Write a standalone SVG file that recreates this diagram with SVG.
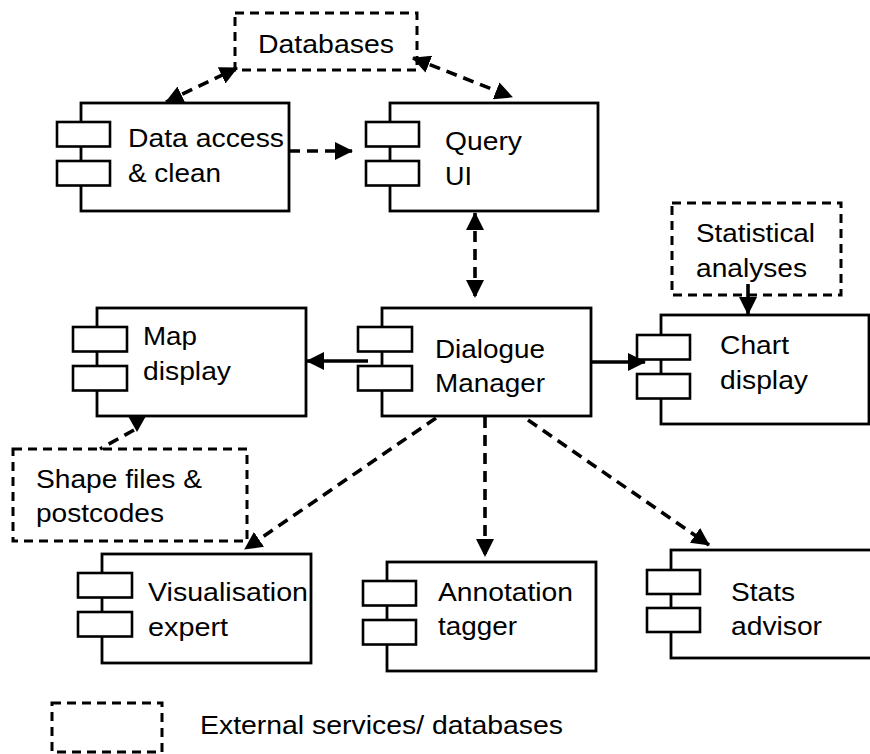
<svg xmlns="http://www.w3.org/2000/svg" width="870" height="754" viewBox="0 0 870 754">
<style>
  .box { fill: #fff; stroke: #000; stroke-width: 2.8; }
  .comp { fill: #fff; stroke: #000; stroke-width: 2.6; }
  .ext { fill: none; stroke: #000; stroke-width: 3; stroke-dasharray: 9 6; }
  .t { font-family: "Liberation Sans", Arial, Helvetica, sans-serif; font-size: 26px; fill: #000; }
  .dash { fill: none; stroke: #000; stroke-width: 3.6; stroke-dasharray: 11 7; }
  .solid { fill: none; stroke: #000; stroke-width: 3.6; }
</style>
<defs>
  <marker id="ah" viewBox="0 0 18 18" markerUnits="userSpaceOnUse" markerWidth="18" markerHeight="18" refX="17" refY="9" orient="auto-start-reverse">
    <path d="M0,0 L18,9 L0,18 Z" fill="#000"/>
  </marker>
</defs>
<rect width="870" height="754" fill="#fff"/>

<g id="databases">
  <rect class="ext" x="235" y="13" width="182" height="57"/>
  <text class="t" x="258" y="52.5" textLength="136" lengthAdjust="spacingAndGlyphs">Databases</text>
</g>

<g id="data-access">
  <rect class="box" x="81" y="103" width="208" height="108"/>
  <rect class="comp" x="57" y="122" width="53" height="24.5"/>
  <rect class="comp" x="57" y="161" width="53" height="24.5"/>
  <text class="t" x="128" y="147" textLength="156" lengthAdjust="spacingAndGlyphs">Data access</text>
  <text class="t" x="128" y="182" textLength="93" lengthAdjust="spacingAndGlyphs">&amp; clean</text>
</g>

<g id="query-ui">
  <rect class="box" x="390" y="103" width="208" height="108"/>
  <rect class="comp" x="366" y="122" width="53" height="24.5"/>
  <rect class="comp" x="366" y="161" width="53" height="24.5"/>
  <text class="t" x="445" y="150" textLength="77" lengthAdjust="spacingAndGlyphs">Query</text>
  <text class="t" x="445" y="185" textLength="27" lengthAdjust="spacingAndGlyphs">UI</text>
</g>

<g id="statistical-analyses">
  <rect class="ext" x="672" y="203" width="169" height="92"/>
  <text class="t" x="696" y="242" textLength="119" lengthAdjust="spacingAndGlyphs">Statistical</text>
  <text class="t" x="696" y="277" textLength="111" lengthAdjust="spacingAndGlyphs">analyses</text>
</g>

<g id="map-display">
  <rect class="box" x="97" y="308" width="209" height="108"/>
  <rect class="comp" x="73" y="327" width="54" height="24.5"/>
  <rect class="comp" x="73" y="366" width="54" height="24.5"/>
  <text class="t" x="143" y="345" textLength="54" lengthAdjust="spacingAndGlyphs">Map</text>
  <text class="t" x="143" y="380" textLength="88" lengthAdjust="spacingAndGlyphs">display</text>
</g>

<g id="dialogue-manager">
  <rect class="box" x="382" y="308" width="209" height="108"/>
  <rect class="comp" x="358" y="327" width="54" height="24.5"/>
  <rect class="comp" x="358" y="366" width="54" height="24.5"/>
  <text class="t" x="435" y="358" textLength="110" lengthAdjust="spacingAndGlyphs">Dialogue</text>
  <text class="t" x="435" y="392" textLength="110" lengthAdjust="spacingAndGlyphs">Manager</text>
</g>

<g id="chart-display">
  <rect class="box" x="661" y="315" width="208" height="109"/>
  <rect class="comp" x="637" y="335" width="53" height="24.5"/>
  <rect class="comp" x="637" y="374" width="53" height="24.5"/>
  <text class="t" x="720" y="354" textLength="69" lengthAdjust="spacingAndGlyphs">Chart</text>
  <text class="t" x="720" y="389" textLength="88" lengthAdjust="spacingAndGlyphs">display</text>
</g>

<g id="shape-files">
  <rect class="ext" x="13" y="449" width="234" height="92"/>
  <text class="t" x="36" y="488" textLength="166" lengthAdjust="spacingAndGlyphs">Shape files &amp;</text>
  <text class="t" x="36" y="522" textLength="128" lengthAdjust="spacingAndGlyphs">postcodes</text>
</g>

<g id="visualisation-expert">
  <rect class="box" x="102" y="554" width="209" height="109"/>
  <rect class="comp" x="78" y="573" width="54" height="24.5"/>
  <rect class="comp" x="78" y="612" width="54" height="24.5"/>
  <text class="t" x="148" y="601" textLength="160" lengthAdjust="spacingAndGlyphs">Visualisation</text>
  <text class="t" x="148" y="636" textLength="80" lengthAdjust="spacingAndGlyphs">expert</text>
</g>

<g id="annotation-tagger">
  <rect class="box" x="387" y="562" width="209" height="109"/>
  <rect class="comp" x="363" y="581" width="53" height="24.5"/>
  <rect class="comp" x="363" y="620" width="53" height="24.5"/>
  <text class="t" x="438" y="601" textLength="135" lengthAdjust="spacingAndGlyphs">Annotation</text>
  <text class="t" x="438" y="635" textLength="79" lengthAdjust="spacingAndGlyphs">tagger</text>
</g>

<g id="stats-advisor">
  <rect class="box" x="671" y="550" width="209" height="108"/>
  <rect class="comp" x="647" y="570" width="53" height="24"/>
  <rect class="comp" x="647" y="608" width="53" height="24"/>
  <text class="t" x="731" y="601" textLength="64" lengthAdjust="spacingAndGlyphs">Stats</text>
  <text class="t" x="731" y="635" textLength="91" lengthAdjust="spacingAndGlyphs">advisor</text>
</g>

<g id="legend">
  <rect class="ext" x="52" y="703" width="110" height="49"/>
  <text class="t" x="200" y="734" textLength="363" lengthAdjust="spacingAndGlyphs">External services/ databases</text>
</g>

<g id="connectors">
  <line class="dash" x1="166" y1="102" x2="237" y2="68" marker-start="url(#ah)" marker-end="url(#ah)"/>
  <line class="dash" x1="413" y1="58" x2="512" y2="97" marker-start="url(#ah)" marker-end="url(#ah)"/>
  <line class="dash" x1="289" y1="151" x2="352" y2="151" marker-end="url(#ah)"/>
  <line class="dash" x1="475" y1="213" x2="475" y2="297" marker-start="url(#ah)" marker-end="url(#ah)"/>
  <line class="solid" x1="368" y1="361" x2="307" y2="361" marker-end="url(#ah)"/>
  <line class="solid" x1="591" y1="362" x2="645" y2="362" marker-end="url(#ah)"/>
  <line class="solid" x1="748" y1="284" x2="748" y2="314" marker-end="url(#ah)"/>
  <polygon points="128,416 146,416 137,432" fill="#000"/>
  <line class="dash" x1="134" y1="430" x2="100" y2="449"/>
  <line class="dash" x1="436" y1="418" x2="245" y2="549" marker-end="url(#ah)"/>
  <line class="dash" x1="485" y1="417" x2="485" y2="556" marker-end="url(#ah)"/>
  <line class="dash" x1="528" y1="420" x2="709" y2="545" marker-end="url(#ah)"/>
</g>
</svg>
